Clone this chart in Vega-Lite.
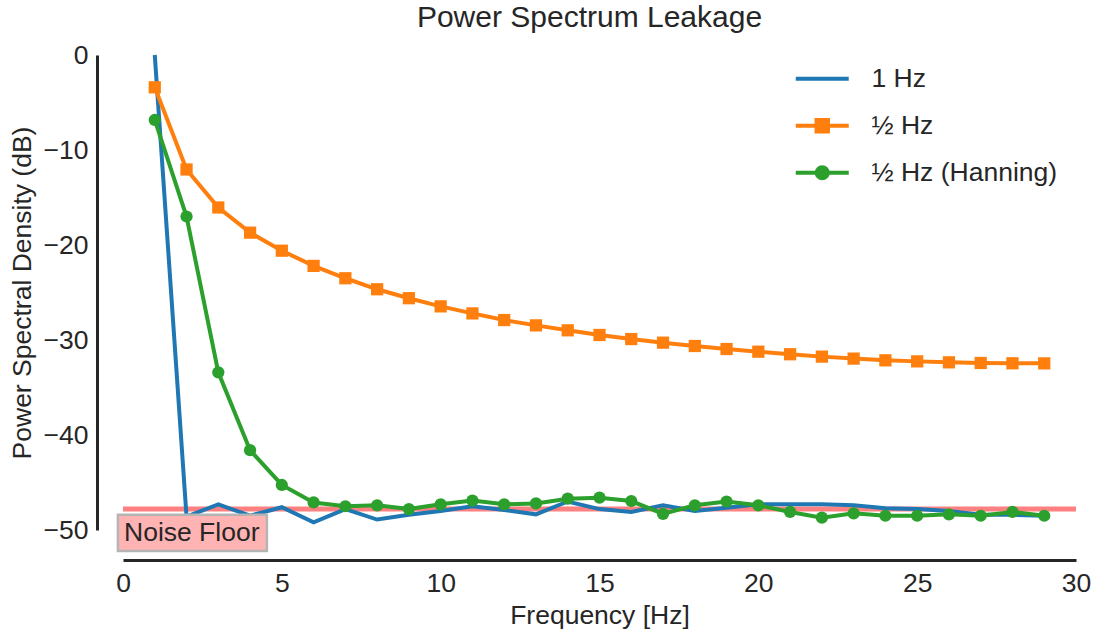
{
  "$schema": "https://vega.github.io/schema/vega-lite/v6.json",
  "width": 953,
  "height": 475,
  "autosize": {"type": "none"},
  "padding": {"left": 123, "top": 55, "right": 21, "bottom": 105},
  "background": "white",
  "config": {
    "font": "Liberation Sans",
    "view": {"stroke": null},
    "axis": {
      "grid": false,
      "ticks": false,
      "tickSize": 0,
      "labelFontSize": 26.5,
      "titleFontSize": 26.5,
      "labelColor": "#262626",
      "titleColor": "#262626",
      "titleFontWeight": "normal",
      "domainColor": "#262626",
      "domainWidth": 3,
      "labelFont": "Liberation Sans",
      "titleFont": "Liberation Sans"
    }
  },
  "title": {
    "text": "Power Spectrum Leakage",
    "fontSize": 30,
    "fontWeight": "normal",
    "color": "#262626",
    "font": "Liberation Sans",
    "baseline": "alphabetic",
    "dx": -10,
    "dy": 29,
    "offset": 14
  },
  "data": {
    "values": [
      {"f": 1, "psd": 0, "s": "1 Hz"},
      {"f": 2, "psd": -48.6, "s": "1 Hz"},
      {"f": 3, "psd": -47.3, "s": "1 Hz"},
      {"f": 4, "psd": -48.5, "s": "1 Hz"},
      {"f": 5, "psd": -47.6, "s": "1 Hz"},
      {"f": 6, "psd": -49.2, "s": "1 Hz"},
      {"f": 7, "psd": -47.8, "s": "1 Hz"},
      {"f": 8, "psd": -48.9, "s": "1 Hz"},
      {"f": 9, "psd": -48.4, "s": "1 Hz"},
      {"f": 10, "psd": -48.0, "s": "1 Hz"},
      {"f": 11, "psd": -47.5, "s": "1 Hz"},
      {"f": 12, "psd": -47.9, "s": "1 Hz"},
      {"f": 13, "psd": -48.35, "s": "1 Hz"},
      {"f": 14, "psd": -47.0, "s": "1 Hz"},
      {"f": 15, "psd": -47.8, "s": "1 Hz"},
      {"f": 16, "psd": -48.1, "s": "1 Hz"},
      {"f": 17, "psd": -47.4, "s": "1 Hz"},
      {"f": 18, "psd": -48.0, "s": "1 Hz"},
      {"f": 19, "psd": -47.65, "s": "1 Hz"},
      {"f": 20, "psd": -47.3, "s": "1 Hz"},
      {"f": 21, "psd": -47.3, "s": "1 Hz"},
      {"f": 22, "psd": -47.3, "s": "1 Hz"},
      {"f": 23, "psd": -47.4, "s": "1 Hz"},
      {"f": 24, "psd": -47.7, "s": "1 Hz"},
      {"f": 25, "psd": -47.8, "s": "1 Hz"},
      {"f": 26, "psd": -48.0, "s": "1 Hz"},
      {"f": 27, "psd": -48.4, "s": "1 Hz"},
      {"f": 28, "psd": -48.4, "s": "1 Hz"},
      {"f": 29, "psd": -48.5, "s": "1 Hz"},
      {"f": 1, "psd": -3.4, "s": "½ Hz"},
      {"f": 2, "psd": -12.05, "s": "½ Hz"},
      {"f": 3, "psd": -16.05, "s": "½ Hz"},
      {"f": 4, "psd": -18.7, "s": "½ Hz"},
      {"f": 5, "psd": -20.6, "s": "½ Hz"},
      {"f": 6, "psd": -22.2, "s": "½ Hz"},
      {"f": 7, "psd": -23.5, "s": "½ Hz"},
      {"f": 8, "psd": -24.66, "s": "½ Hz"},
      {"f": 9, "psd": -25.6, "s": "½ Hz"},
      {"f": 10, "psd": -26.46, "s": "½ Hz"},
      {"f": 11, "psd": -27.2, "s": "½ Hz"},
      {"f": 12, "psd": -27.9, "s": "½ Hz"},
      {"f": 13, "psd": -28.46, "s": "½ Hz"},
      {"f": 14, "psd": -28.98, "s": "½ Hz"},
      {"f": 15, "psd": -29.47, "s": "½ Hz"},
      {"f": 16, "psd": -29.9, "s": "½ Hz"},
      {"f": 17, "psd": -30.28, "s": "½ Hz"},
      {"f": 18, "psd": -30.63, "s": "½ Hz"},
      {"f": 19, "psd": -30.95, "s": "½ Hz"},
      {"f": 20, "psd": -31.23, "s": "½ Hz"},
      {"f": 21, "psd": -31.5, "s": "½ Hz"},
      {"f": 22, "psd": -31.75, "s": "½ Hz"},
      {"f": 23, "psd": -31.96, "s": "½ Hz"},
      {"f": 24, "psd": -32.14, "s": "½ Hz"},
      {"f": 25, "psd": -32.25, "s": "½ Hz"},
      {"f": 26, "psd": -32.35, "s": "½ Hz"},
      {"f": 27, "psd": -32.42, "s": "½ Hz"},
      {"f": 28, "psd": -32.45, "s": "½ Hz"},
      {"f": 29, "psd": -32.46, "s": "½ Hz"},
      {"f": 1, "psd": -6.84, "s": "½ Hz (Hanning)"},
      {"f": 2, "psd": -17.0, "s": "½ Hz (Hanning)"},
      {"f": 3, "psd": -33.4, "s": "½ Hz (Hanning)"},
      {"f": 4, "psd": -41.6, "s": "½ Hz (Hanning)"},
      {"f": 5, "psd": -45.26, "s": "½ Hz (Hanning)"},
      {"f": 6, "psd": -47.1, "s": "½ Hz (Hanning)"},
      {"f": 7, "psd": -47.5, "s": "½ Hz (Hanning)"},
      {"f": 8, "psd": -47.4, "s": "½ Hz (Hanning)"},
      {"f": 9, "psd": -47.8, "s": "½ Hz (Hanning)"},
      {"f": 10, "psd": -47.3, "s": "½ Hz (Hanning)"},
      {"f": 11, "psd": -46.9, "s": "½ Hz (Hanning)"},
      {"f": 12, "psd": -47.3, "s": "½ Hz (Hanning)"},
      {"f": 13, "psd": -47.2, "s": "½ Hz (Hanning)"},
      {"f": 14, "psd": -46.7, "s": "½ Hz (Hanning)"},
      {"f": 15, "psd": -46.6, "s": "½ Hz (Hanning)"},
      {"f": 16, "psd": -46.95, "s": "½ Hz (Hanning)"},
      {"f": 17, "psd": -48.3, "s": "½ Hz (Hanning)"},
      {"f": 18, "psd": -47.4, "s": "½ Hz (Hanning)"},
      {"f": 19, "psd": -47.0, "s": "½ Hz (Hanning)"},
      {"f": 20, "psd": -47.4, "s": "½ Hz (Hanning)"},
      {"f": 21, "psd": -48.1, "s": "½ Hz (Hanning)"},
      {"f": 22, "psd": -48.7, "s": "½ Hz (Hanning)"},
      {"f": 23, "psd": -48.25, "s": "½ Hz (Hanning)"},
      {"f": 24, "psd": -48.5, "s": "½ Hz (Hanning)"},
      {"f": 25, "psd": -48.5, "s": "½ Hz (Hanning)"},
      {"f": 26, "psd": -48.35, "s": "½ Hz (Hanning)"},
      {"f": 27, "psd": -48.5, "s": "½ Hz (Hanning)"},
      {"f": 28, "psd": -48.1, "s": "½ Hz (Hanning)"},
      {"f": 29, "psd": -48.5, "s": "½ Hz (Hanning)"}
    ]
  },
  "layer": [
    {
      "data": {"values": [{"level": -47.8}]},
      "mark": {"type": "rule", "color": "#ff8080", "strokeWidth": 5},
      "encoding": {
        "y": {"field": "level", "type": "quantitative", "title": "Power Spectral Density (dB)"},
        "x": {"datum": 0},
        "x2": {"datum": 30}
      }
    },
    {
      "mark": {"type": "line", "strokeWidth": 4},
      "encoding": {
        "x": {
          "field": "f",
          "type": "quantitative",
          "scale": {"domain": [0, 30], "nice": false, "zero": false},
          "axis": {
            "offset": 30,
            "values": [0, 5, 10, 15, 20, 25, 30],
            "labelPadding": 10,
            "labelFlush": false,
            "titlePadding": 6
          },
          "title": "Frequency [Hz]"
        },
        "y": {
          "field": "psd",
          "type": "quantitative",
          "scale": {"domain": [-50, 0], "nice": false, "zero": false},
          "axis": {
            "offset": 26,
            "values": [-50, -40, -30, -20, -10, 0],
            "labelPadding": 9,
            "titlePadding": 7,
            "labelExpr": "replace(datum.label, '-', '−')"
          },
          "title": "Power Spectral Density (dB)"
        },
        "color": {
          "field": "s",
          "type": "nominal",
          "scale": {
            "domain": ["1 Hz", "½ Hz", "½ Hz (Hanning)"],
            "range": ["#1f77b4", "#ff7f0e", "#2ca02c"]
          },
          "legend": {
            "orient": "none",
            "legendX": 686,
            "legendY": 10.5,
            "title": null,
            "padding": 0,
            "labelFontSize": 26.5,
            "labelColor": "#262626",
            "labelFont": "Liberation Sans",
            "labelLimit": 0,
            "symbolSize": 300,
            "symbolStrokeWidth": 4,
            "labelOffset": 36,
            "rowPadding": 19,
            "encode": {
              "symbols": {
                "update": {
                  "shape": {"signal": "datum.value === '1 Hz' ? 'M-3.06,0H3.06' : (datum.value === '½ Hz' ? 'M-3.06,0H3.06M-0.66,-0.66H0.66V0.66H-0.66Z' : 'M-3.06,0H3.06M-0.64,0A0.64,0.64 0 1,1 0.64,0A0.64,0.64 0 1,1 -0.64,0Z')"},
                  "fill": {"signal": "scale('color', datum.value)"},
                  "stroke": {"signal": "scale('color', datum.value)"},
                  "strokeWidth": {"value": 4},
                  "opacity": {"value": 1}
                }
              }
            }
          }
        },
        "order": {"field": "f", "type": "quantitative"}
      }
    },
    {
      "transform": [{"filter": "datum.s !== '1 Hz'"}],
      "mark": {"type": "point", "filled": true, "size": 150, "opacity": 1},
      "encoding": {
        "x": {"field": "f", "type": "quantitative"},
        "y": {"field": "psd", "type": "quantitative"},
        "color": {"field": "s", "type": "nominal"},
        "shape": {
          "field": "s",
          "type": "nominal",
          "scale": {"domain": ["½ Hz", "½ Hz (Hanning)"], "range": ["square", "circle"]},
          "legend": null
        }
      }
    },
    {
      "data": {"values": [{"label": "Noise Floor"}]},
      "mark": {"type": "rect", "fill": "#ffb3b3", "stroke": "#b5b5b5", "strokeWidth": 2.5},
      "encoding": {
        "x": {"datum": -0.16},
        "x2": {"datum": 4.53},
        "y": {"datum": -48.4},
        "y2": {"datum": -52.2}
      }
    },
    {
      "data": {"values": [{"label": "Noise Floor"}]},
      "mark": {"type": "text", "align": "left", "baseline": "middle", "fontSize": 26.5, "color": "#262626", "dx": 1},
      "encoding": {
        "x": {"datum": 0},
        "y": {"datum": -50.3},
        "text": {"field": "label"}
      }
    }
  ]
}
